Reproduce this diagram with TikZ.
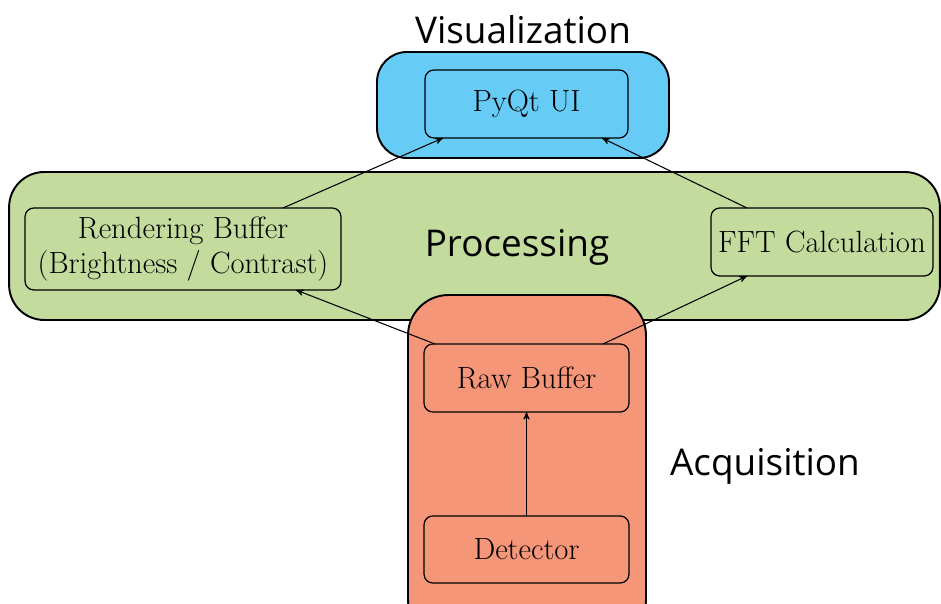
\documentclass[tikz,border=0pt]{standalone}
\usepackage{fontspec}
\newfontfamily\labelfont{Open Sans}
\usepackage{color}
\definecolor{visblue}{rgb}{0.40,0.80,0.96}
\definecolor{procgreen}{rgb}{0.77,0.86,0.62}
\definecolor{acqorange}{rgb}{0.96,0.59,0.47}
\usepackage{tikz}
\usetikzlibrary{calc,arrows,positioning}
\tikzset{
	group/.style={
		draw, rectangle, line width=1.1pt, outer sep=0pt,
		rounded corners=17pt
	},
	stage/.style={
		draw, rectangle, line width=0.7pt, outer sep=0pt,
		rounded corners=5pt, align=center,
		font=\fontsize{17.5}{20}\selectfont, text=black
	},
	layer_label/.style={
		font=\labelfont\fontsize{21}{25}\selectfont, text=black
	},
	flow_arrow/.style={->, line width=0.6pt, >=stealth'}
}
\begin{document}
\begin{tikzpicture}[x=0.02cm,y=-0.02cm]
				\useasboundingbox (0,0) rectangle (941,604);
				\node[group,fill=visblue,minimum width=5.84cm,minimum height=2.12cm] (vis) at (523,105) {};
				\node[group,fill=procgreen,minimum width=18.62cm,minimum height=2.96cm,rounded corners=20pt] (proc) at (474.5,246) {};
				\node[group,fill=acqorange,minimum width=4.76cm,minimum height=6.9cm,rounded corners=23pt] (acq) at (527,467.5) {};
				\node[layer_label] (vislabel) at (523,30) {Visualization};
				\node[layer_label] (proclabel) at (517,247) {Processing};
				\node[layer_label] (acqlabel) at (765,466) {Acquisition};
				\node[stage,fill=visblue,minimum width=4.06cm,minimum height=1.36cm] (pyqt) at (526.5,104) {PyQt UI};
				\node[stage,fill=procgreen,minimum width=6.32cm,minimum height=1.64cm] (render) at (183,249) {Rendering Buffer\\(Brightness / Contrast)};
				\node[stage,fill=procgreen,minimum width=4.44cm,minimum height=1.36cm] (fft) at (822,242) {FFT Calculation};
				\node[stage,fill=acqorange,minimum width=4.1cm,minimum height=1.36cm] (raw) at (526.5,378) {Raw Buffer};
				\node[stage,fill=acqorange,minimum width=4.1cm,minimum height=1.34cm] (det) at (526.5,549.5) {Detector};
				\draw[flow_arrow] ([xshift=2cm]render.north) -- ([xshift=-1.67cm]pyqt.south);
				\draw[flow_arrow] ([xshift=-1.5cm]fft.north) -- ([xshift=1.51cm]pyqt.south);
				\draw[flow_arrow] ([xshift=0.22cm]raw.north west) -- ([xshift=2.26cm]render.south);
				\draw[flow_arrow] ([xshift=-0.52cm]raw.north east) -- ([xshift=-1.5cm]fft.south);
				\draw[flow_arrow] (det) -- (raw);
			\end{tikzpicture}
\end{document}
